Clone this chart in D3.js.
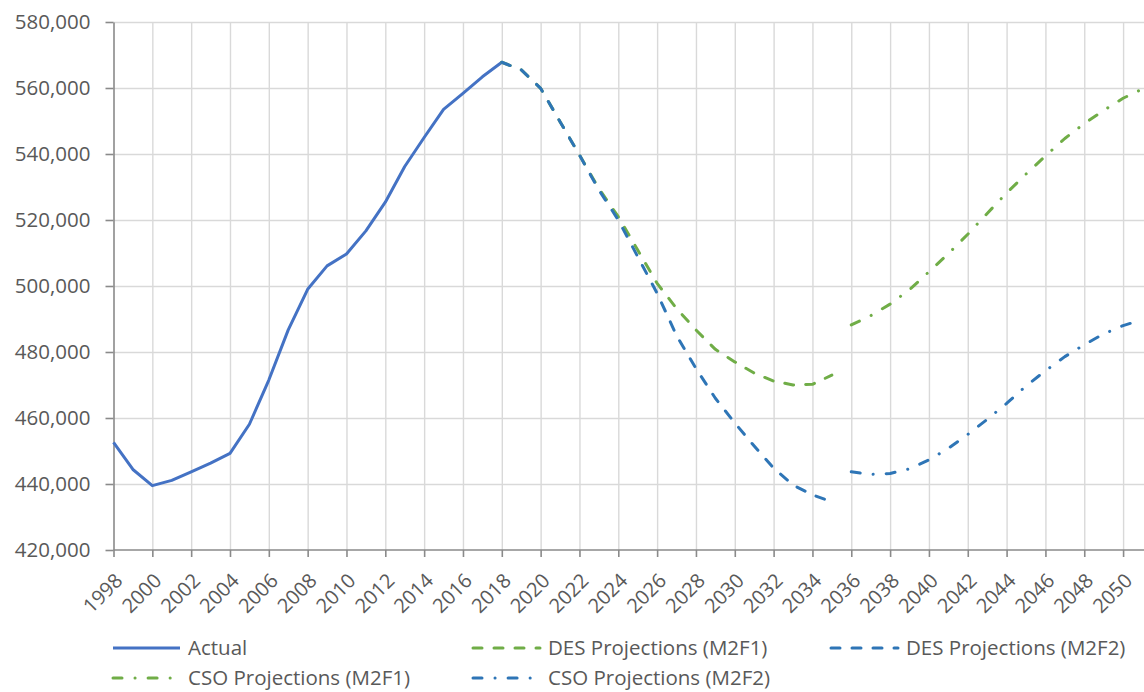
<!DOCTYPE html>
<html>
<head>
<meta charset="utf-8">
<script src="https://cdn.jsdelivr.net/npm/d3@7"></script>
<style>
  body { margin: 0; background: #fff; }
  svg { display: block; font-family: "Open Sans", sans-serif; }
</style>
</head>
<body>
<div id="chart"></div>
<script>
// data
var actualYears = d3.range(1998, 2019);
var actualValues = [452600, 444400, 439500, 441100, 443700, 446300, 449300, 458100, 471500, 486700,
    499000, 506100, 509700, 516700, 525400, 536200, 545000, 553500, 558400, 563400, 567800];

var desYears = d3.range(2018, 2036);
var desM2F1 = [567800, 565500, 559900, 549800, 539700, 529500, 521000, 510900, 500800, 493200,
    486700, 480800, 477000, 473600, 471200, 470000, 470200, 473000];
var desM2F2 = [567800, 565500, 559900, 549800, 539700, 529100, 520000, 508900, 497800, 485000,
    475000, 466000, 458500, 451500, 444800, 439700, 436700, 434600];

var csoYears = d3.range(2036, 2052);
var csoM2F1 = [488200, 491000, 494500, 498900, 504300, 509800, 515700, 522000, 528200, 533900,
    539400, 544700, 549200, 553200, 556900, 559700];
var csoM2F2 = [443700, 442900, 443200, 444600, 447300, 450800, 455000, 459600, 464400, 469700,
    474300, 478600, 482200, 485500, 488000, 489800];

var yTicks = [420000, 440000, 460000, 480000, 500000, 520000, 540000, 560000, 580000];
var xTicks = d3.range(1998, 2051, 2);

var series = [
    {name: "Actual", years: actualYears, values: actualValues, color: "#4472C4", dash: null},
    {name: "DES Projections (M2F1)", years: desYears, values: desM2F1, color: "#70AD47", dash: "9,12"},
    {name: "DES Projections (M2F2)", years: desYears, values: desM2F2, color: "#2E75B6", dash: "9,12"},
    {name: "CSO Projections (M2F1)", years: csoYears, values: csoM2F1, color: "#70AD47", dash: "9,13,0.1,13"},
    {name: "CSO Projections (M2F2)", years: csoYears, values: csoM2F2, color: "#2E75B6", dash: "9,13,0.1,13"}
];

var W = 1144, H = 692;
var plotLeft = 113.5, plotRight = 1142.5, plotTop = 22, plotBottom = 550;

var svg = d3.select("#chart").append("svg")
    .attr("width", W)
    .attr("height", H);

var x = d3.scaleLinear().domain([1998, 2051]).range([plotLeft, plotRight]);
var y = d3.scaleLinear().domain([420000, 580000]).range([plotBottom, plotTop]);

// gridlines
svg.append("g")
    .attr("transform", "translate(0," + plotBottom + ")")
    .call(d3.axisBottom(x).tickValues(xTicks.slice(1)).tickSize(-(plotBottom - plotTop)).tickFormat(""))
    .call(g => g.select(".domain").remove())
    .call(g => g.selectAll("line").attr("stroke", "#d9d9d9").attr("stroke-width", 1.4));
svg.append("g")
    .attr("transform", "translate(" + plotLeft + ",0)")
    .call(d3.axisLeft(y).tickValues(yTicks.slice(1)).tickSize(-(W - plotLeft)).tickFormat(""))
    .call(g => g.select(".domain").remove())
    .call(g => g.selectAll("line").attr("stroke", "#d9d9d9").attr("stroke-width", 1.4));

// y axis
var yAxis = svg.append("g")
    .attr("transform", "translate(" + plotLeft + ",0)")
    .call(d3.axisLeft(y).tickValues(yTicks).tickFormat(d3.format(",")).tickSize(8).tickPadding(15).tickSizeOuter(0));
yAxis.select(".domain").attr("stroke", "#8a8a8a").attr("stroke-width", 1.6);
yAxis.selectAll("line").attr("stroke", "#8a8a8a").attr("stroke-width", 1.6);
yAxis.selectAll("text").attr("fill", "#595959").attr("font-size", "20.5px").attr("font-family", "Open Sans");

// x axis
var xAxis = svg.append("g")
    .attr("transform", "translate(0," + plotBottom + ")")
    .call(d3.axisBottom(x).tickValues(xTicks).tickFormat(d3.format("d")).tickSize(7).tickSizeOuter(0));
xAxis.select(".domain").attr("d", "M" + plotLeft + ",0H" + W).attr("stroke", "#8a8a8a").attr("stroke-width", 1.6);
xAxis.selectAll("line").attr("stroke", "#8a8a8a").attr("stroke-width", 1.6);
xAxis.selectAll("text")
    .attr("fill", "#595959")
    .attr("font-size", "20px")
    .attr("font-family", "Open Sans")
    .attr("text-anchor", "end")
    .attr("x", 0).attr("y", 0).attr("dy", "0.35em")
    .attr("transform", "translate(5,27) rotate(-45)");

// lines
var line = d3.line()
    .x(d => x(d[0]))
    .y(d => y(d[1]));

series.forEach(function(s) {
    svg.append("path")
        .datum(s.years.map((yr, i) => [yr, s.values[i]]))
        .attr("fill", "none")
        .attr("stroke", s.color)
        .attr("stroke-width", 3)
        .attr("stroke-linejoin", "round")
        .attr("stroke-linecap", s.dash ? "round" : "butt")
        .attr("stroke-dasharray", s.dash)
        .attr("d", line);
});

// legend
var legendPos = [[112, 648], [472, 648], [830, 648], [112, 678], [472, 678]];
var legend = svg.append("g");
series.forEach(function(s, i) {
    var p = legendPos[i];
    var item = legend.append("g").attr("transform", "translate(" + p[0] + "," + p[1] + ")");
    item.append("line")
        .attr("x1", 1).attr("x2", 68)
        .attr("stroke", s.color)
        .attr("stroke-width", 3)
        .attr("stroke-linecap", s.dash ? "round" : "butt")
        .attr("stroke-dasharray", s.dash);
    item.append("text")
        .attr("x", 76)
        .attr("dy", "0.35em")
        .attr("fill", "#595959")
        .attr("font-size", "20.5px")
        .text(s.name);
});
</script>
</body>
</html>
